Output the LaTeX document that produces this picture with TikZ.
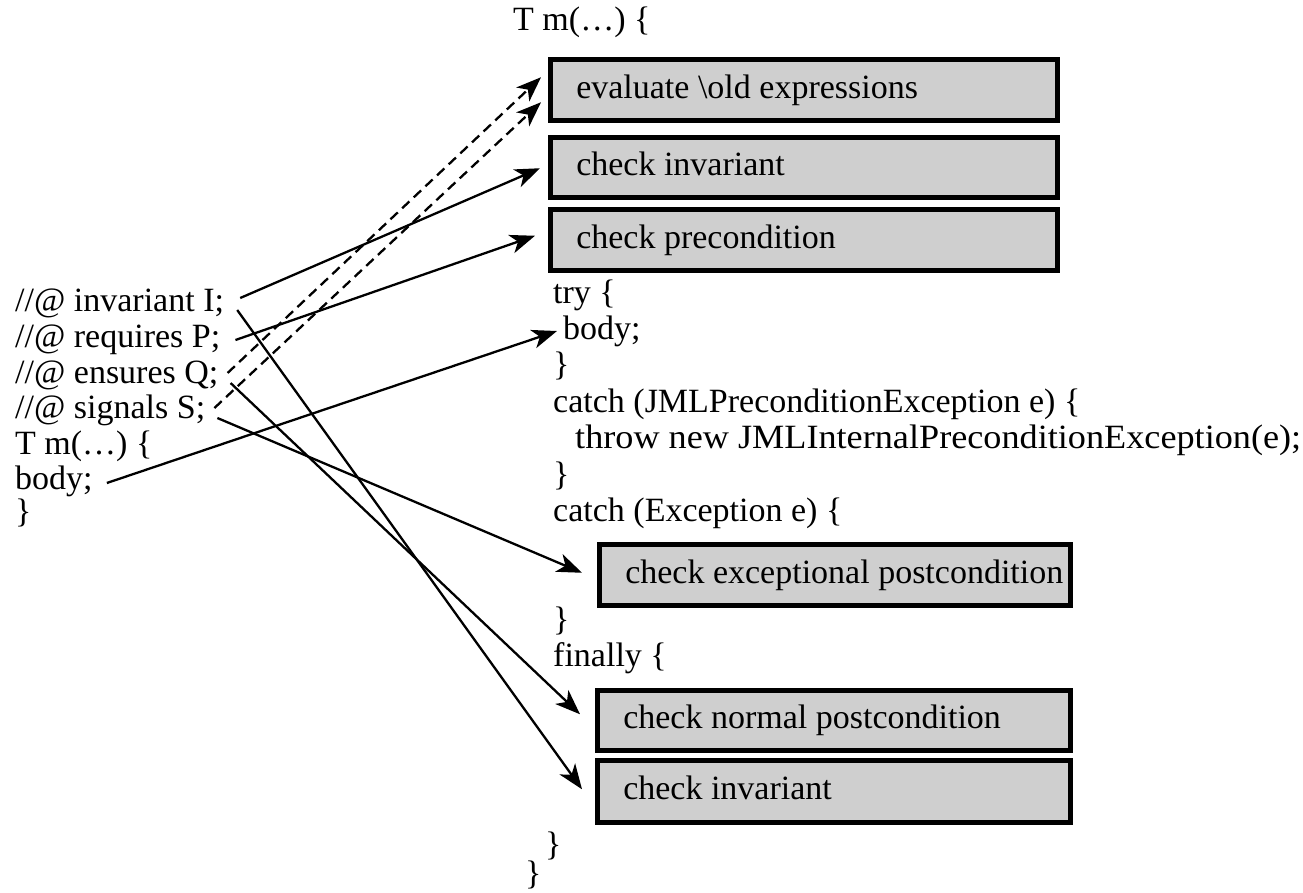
\documentclass[tikz,border=0pt]{standalone}
\usepackage{fontspec}
\setmainfont{Liberation Serif}
\usetikzlibrary{arrows.meta}
\definecolor{boxgray}{gray}{0.81}
\tikzset{
  txt/.style={anchor=west, inner sep=0pt, text height=24pt, text depth=7.5pt, font=\fontsize{34}{40}\selectfont},
  box/.style={draw=black, line width=4.5pt, fill=boxgray, anchor=north west, inner xsep=0pt, inner ysep=0pt, font=\fontsize{34}{40}\selectfont, text height=24pt, text depth=7.5pt},
  conn/.style={line width=2.3pt, -{Stealth[length=25pt,width=19pt,inset=7pt]}},
  dconn/.style={conn, dash pattern=on 10pt off 6pt}
}
\newcommand{\boxlabel}[2]{\makebox[#1][l]{\hspace*{26pt}#2}}
\begin{document}
\begin{tikzpicture}[x=1pt,y=-1pt]
\useasboundingbox (0,0) rectangle (1303,892);
% right column
\node[txt] (tm2) at (513,22) {T m(\ldots) \{};
\node[box, minimum height=61pt] (b1) at (548,57) {\boxlabel{507pt}{evaluate \textbackslash old expressions}};
\node[box, minimum height=60pt] (b2) at (548,135) {\boxlabel{507pt}{check invariant}};
\node[box, minimum height=61pt] (b3) at (548,207) {\boxlabel{507pt}{check precondition}};
\node[txt] (try) at (553,295) {try \{};
\node[txt] (rbody) at (563,331) {body;};
\node[txt] (rc1) at (553,367) {\}};
\node[txt] (catch1) at (553,404) {catch (JMLPreconditionException e) \{};
\node[txt] (throw) at (575,440) {\scalebox{1.065}[1]{throw new JMLInternalPreconditionException(e);}};
\node[txt] (rc2) at (553,477) {\}};
\node[txt] (catch2) at (553,513) {catch (Exception e) \{};
\node[box, minimum height=61pt] (b4) at (597,542) {\boxlabel{471pt}{check exceptional postcondition}};
\node[txt] (rc3) at (553,622) {\}};
\node[txt] (fin) at (553,658) {finally \{};
\node[box, minimum height=60pt] (b5) at (595,688) {\boxlabel{473pt}{check normal postcondition}};
\node[box, minimum height=62pt] (b6) at (595,758) {\boxlabel{473pt}{check invariant}};
\node[txt] (rc4) at (545,847) {\}};
\node[txt] (rc5) at (525,876) {\}};
% left column
\node[txt] (inv) at (15,303) {//@ invariant I;};
\node[txt] (req) at (15,339) {//@ requires P;};
\node[txt] (ens) at (15,375) {//@ ensures Q;};
\node[txt] (sig) at (15,410) {//@ signals S;};
\node[txt] (tm1) at (15,446) {T m(\ldots) \{};
\node[txt] (lbody) at (15,481) {body;};
\node[txt] (lc) at (15,514) {\}};
% connectors
\draw[dconn] ([xshift=9pt,yshift=2pt]ens.east) -- ([xshift=-7pt,yshift=12.5pt]b1.west);
\draw[dconn] ([xshift=9pt,yshift=2pt]sig.east) -- ([xshift=-7pt,yshift=-12.5pt]b1.west);
\draw[conn] ([xshift=16pt,yshift=5pt]inv.east) -- ([xshift=-8pt,yshift=-1pt]b2.west);
\draw[conn] ([xshift=13pt,yshift=-7pt]inv.east) -- ([xshift=-13pt,yshift=2pt]b6.west);
\draw[conn] ([xshift=15pt,yshift=-1pt]req.east) -- ([xshift=-13pt,yshift=4pt]b3.west);
\draw[conn] ([xshift=12pt,yshift=-8pt]ens.east) -- ([xshift=-15pt,yshift=6pt]b5.west);
\draw[conn] ([xshift=12pt,yshift=-8pt]sig.east) -- ([xshift=-15pt,yshift=2pt]b4.west);
\draw[conn] ([xshift=14pt,yshift=-2pt]lbody.east) -- ([xshift=-6pt]rbody.west);
\end{tikzpicture}
\end{document}
